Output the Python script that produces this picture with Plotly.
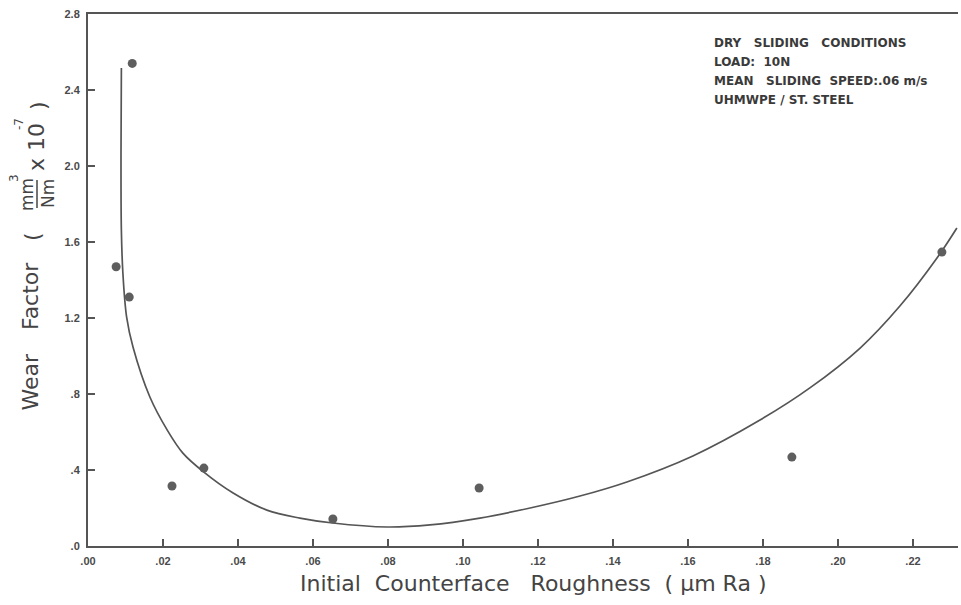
import plotly.graph_objects as go

# Data
pt_x = [0.0075, 0.0118, 0.0110, 0.0224, 0.0309, 0.0653, 0.1043, 0.1877, 0.2277]
pt_y = [1.47, 2.54, 1.31, 0.316, 0.41, 0.142, 0.305, 0.468, 1.547]

curve_x = [0.0089, 0.0088, 0.0089, 0.0093, 0.0103, 0.0120, 0.0165, 0.0211, 0.0253,
           0.0309, 0.0387, 0.0477, 0.0565, 0.0653, 0.0797, 0.0912, 0.1045, 0.1179, 0.1312,
           0.1437, 0.1613, 0.1792, 0.1925, 0.2059, 0.2165, 0.2264, 0.2317]
curve_y = [2.516, 2.05, 1.66, 1.437, 1.205, 1.047, 0.784, 0.611, 0.489,
           0.389, 0.279, 0.189, 0.147, 0.121, 0.100, 0.111, 0.147, 0.200, 0.263,
           0.337, 0.474, 0.663, 0.832, 1.042, 1.263, 1.516, 1.674]

x_ticks = [0.00, 0.02, 0.04, 0.06, 0.08, 0.10, 0.12, 0.14, 0.16, 0.18, 0.20, 0.22]
x_ticktext = [".00", ".02", ".04", ".06", ".08", ".10", ".12", ".14", ".16", ".18", ".20", ".22"]
y_ticks = [0.0, 0.4, 0.8, 1.2, 1.6, 2.0, 2.4, 2.8]
y_ticktext = [".0", ".4", ".8", "1.2", "1.6", "2.0", "2.4", "2.8"]

NB = "\u00a0"
info_lines = [f"DRY{NB*3}SLIDING{NB*3}CONDITIONS", f"LOAD:{NB*2}10N",
              f"MEAN{NB*3}SLIDING{NB*2}SPEED:.06 m/s", f"UHMWPE{NB}/{NB}ST.{NB}STEEL"]

INK = "#4a4a4a"
W, H = 961, 605
L, R, T, B = 88, 3, 14, 59
PW, PH = W - L - R, H - T - B


def px(xp):
    return (xp - L) / PW


def py(yp):
    return (H - B - yp) / PH


fig = go.Figure()
fig.add_trace(go.Scatter(x=curve_x, y=curve_y, mode="lines",
                         line=dict(color="#555555", width=1.7, shape="spline", smoothing=1.0),
                         hoverinfo="skip", showlegend=False))
fig.add_trace(go.Scatter(x=pt_x, y=pt_y, mode="markers",
                         marker=dict(color="#5e5e5e", size=9), showlegend=False))

tickfont = dict(family="Liberation Sans", size=11, color=INK, weight="bold")
fig.update_xaxes(range=[0, 0.232], tickvals=x_ticks, ticktext=x_ticktext,
                 showgrid=False, zeroline=False, showline=True, linecolor="#555555",
                 linewidth=2, mirror=True, ticks="inside", ticklen=7, tickwidth=1.5,
                 tickcolor="#555555", tickfont=tickfont, ticklabelstandoff=4)
fig.update_yaxes(range=[0, 2.8], tickvals=y_ticks, ticktext=y_ticktext,
                 showgrid=False, zeroline=False, showline=True, linecolor="#555555",
                 linewidth=2, ticks="inside", ticklen=7, tickwidth=1.5,
                 tickcolor="#555555", tickfont=tickfont, ticklabelstandoff=4)

titlefont = dict(family="DejaVu Sans", size=22, color="#444444")
ann = []


def yt(text, xc, yc, size=22, anchor="middle"):
    ann.append(dict(text=text, textangle=-90, x=px(xc), y=py(yc), xref="paper", yref="paper",
                    showarrow=False, xanchor="center", yanchor=anchor,
                    font=dict(family="DejaVu Sans", size=size, color="#444444")))


# x title
ann.append(dict(text=f"Initial{NB}{NB}Counterface{NB}{NB}{NB}Roughness{NB}{NB}({NB}\u03bcm{NB}Ra{NB})",
                x=px(533), y=py(583), xref="paper", yref="paper", showarrow=False,
                xanchor="center", yanchor="middle", font=titlefont))
# y title pieces
yt("Wear", 30, 413, anchor="bottom")
yt("Factor", 30, 296)
yt("(", 33, 236)
yt("mm", 27, 194, size=17)
yt("Nm", 48, 194, size=17)
yt("3", 14, 178, size=12)
yt(f"x{NB}10", 36, 173, anchor="bottom")
yt("-7", 19, 124, size=12)
yt(")", 38, 106)

for i, line in enumerate(info_lines):
    ann.append(dict(text=line, x=px(712), y=py(43 + i * 19), xref="paper", yref="paper",
                    showarrow=False, xanchor="left", yanchor="middle",
                    font=dict(family="DejaVu Sans", size=12, color="#3a3a3a", weight="bold")))

fig.update_layout(
    width=W, height=H, margin=dict(l=L, r=R, t=T, b=B),
    paper_bgcolor="white", plot_bgcolor="white", annotations=ann,
    shapes=[dict(type="line", xref="paper", yref="paper", x0=px(37), x1=px(37),
                 y0=py(180), y1=py(208), line=dict(color="#444444", width=1.5))],
)

fig.write_html("out.html")
